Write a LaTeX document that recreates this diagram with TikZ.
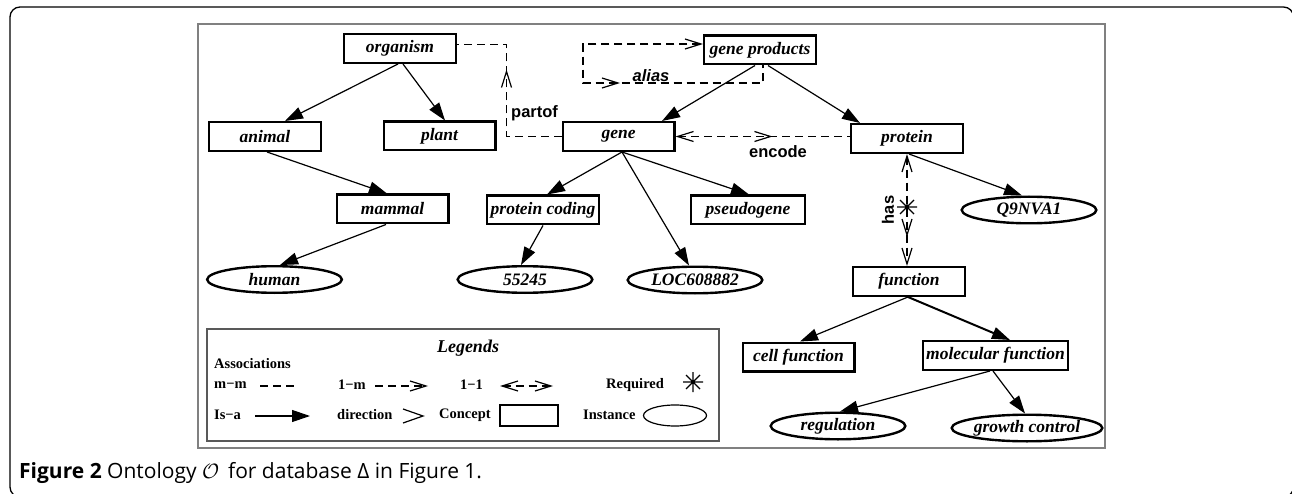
\documentclass[tikz,border=0pt]{standalone}
\usepackage{fontspec}
\setmainfont{Liberation Serif}
\newfontfamily\lblfont{Liberation Sans}
\newfontfamily\capfont{Open Sans}
\usetikzlibrary{shapes.geometric,arrows.meta,decorations.markings}
\begin{document}
\begin{tikzpicture}[x=1pt,y=-1pt,
  Chev/.tip={Straight Barb[length=16pt,width=10pt]},
  Tri/.tip={Triangle[length=18pt,width=12pt]},
  concept/.style={draw, line width=2.4pt, minimum width=111.6pt, minimum height=28.6pt, inner sep=0pt,
    font=\fontsize{17.5}{19}\selectfont\bfseries\itshape},
  inst/.style={draw, ellipse, line width=2.4pt, minimum width=134.6pt, minimum height=26.6pt, inner sep=0pt,
    font=\fontsize{17.5}{19}\selectfont\bfseries\itshape},
  isa/.style={line width=1.2pt, -Tri},
  assoc/.style={line width=1.2pt, dash pattern=on 8pt off 5pt},
  rellbl/.style={font=\lblfont\bfseries\fontsize{16.5}{19}\selectfont, inner sep=0pt},
  legtxt/.style={font=\fontsize{14.5}{16}\selectfont\bfseries, inner sep=0pt, anchor=west},
  reqstar/.pic={\draw[line width=1.2pt] (-10,0)--(10,0) (0,-10)--(0,10) (-7,-7)--(7,7) (-7,7)--(7,-7);}
]
\useasboundingbox (0,0) rectangle (1292,494);
% outer frame
\draw[line width=1.3pt, rounded corners=10pt] (10,7) rectangle (1293.5,497);
% inner figure frame
\draw[black!50, line width=1.2pt] (198,24) rectangle (1105,448);

% concepts
\node[concept] (organism) at (400,48.5) {organism};
\node[concept] (gp) at (760,50) {gene products};
\node[concept] (animal) at (265,136.5) {animal};
\node[concept] (plant) at (439.5,136) {plant};
\node[concept] (gene) at (618.5,136.5) {gene};
\node[concept] (protein) at (907,138.5) {protein};
\node[concept] (mammal) at (392.5,209) {mammal};
\node[concept] (pc) at (543,210) {protein coding};
\node[concept, minimum width=113.6pt] (pseudo) at (748,210) {pseudogene};
\node[concept] (function) at (909,281.5) {function};
\node[concept] (cell) at (798.5,357) {cell function};
\node[concept, minimum width=144.6pt] (molec) at (995.5,355.5) {molecular function};
% instances
\node[inst] (human) at (274.5,279.5) {human};
\node[inst] (n55245) at (525,279.5) {55245};
\node[inst] (loc) at (695,280) {LOC608882};
\node[inst] (q9) at (1029,210) {Q9NVA1};
\node[inst] (reg) at (838,426) {regulation};
\node[inst] (growth) at (1027,428) {growth control};

% is-a edges
\draw[isa] ([xshift=-2pt]organism.south) -- ([xshift=20pt]animal.north);
\draw[isa] ([xshift=3pt]organism.south) -- ([xshift=5.5pt]plant.north);
\draw[isa] ([xshift=2pt]animal.south) -- ([xshift=-5.5pt]mammal.north);
\draw[isa] ([xshift=-6.5pt]mammal.south) -- ([xshift=5.5pt]human.north);
\draw[isa] ([xshift=3.5pt]gene.south) -- ([xshift=4pt]pc.north);
\draw[isa] ([xshift=3.5pt]gene.south) -- ([xshift=-6pt]loc.north);
\draw[isa] ([xshift=3.5pt]gene.south) -- ([xshift=1pt]pseudo.north);
\draw[isa] (pc.south) -- ([xshift=-4pt]n55245.north);
\draw[isa] ([xshift=-5pt]gp.south) -- ([xshift=43.5pt]gene.north);
\draw[isa] ([xshift=8pt]gp.south) -- ([xshift=-47pt]protein.north);
\draw[isa] ([xshift=2pt]protein.south) -- ([xshift=-7pt]q9.north);
\draw[isa] ([xshift=-1pt]function.south) -- ([xshift=1.5pt]cell.north);
\draw[isa, line width=2pt] ([xshift=-1pt]function.south) -- ([xshift=14.5pt]molec.north);
\draw[isa] ([xshift=-5.5pt]molec.south) -- ([xshift=2pt]reg.north);
\draw[isa] ([xshift=-2.5pt]molec.south) -- ([xshift=-2pt]growth.north);

% associations
\draw[assoc, decoration={markings, mark=at position 122pt with {\arrow{Chev}}}, postaction={decorate}]
  (gene.west) -- ++(-55,0) |- ([yshift=4pt]organism.east);
\node[rellbl, anchor=west] (partoflbl) at (511,113) {partof};

\draw[assoc, {Chev}-, decoration={markings, mark=at position 196pt with {\arrow{Chev}}}, postaction={decorate}]
  ([yshift=6pt]gp.west) -| ++(-120,39) -| ([xshift=3pt]gp.south);
\node[rellbl, font=\lblfont\bfseries\itshape\fontsize{16.5}{19}\selectfont] (aliaslbl) at (651,76) {alias};

\draw[assoc, {Chev}-, decoration={markings, mark=at position 97pt with {\arrow{Chev}}}, postaction={decorate}]
  (gene.east) -- (gene.east -| protein.west);
\node[rellbl] (encodelbl) at (778,152) {encode};

\draw[assoc, {Chev}-{Chev}, decoration={markings, mark=at position 83pt with {\arrow{Chev}}}, postaction={decorate}]
  (protein.south) -- (protein.south |- function.north);
\pic at ([yshift=-53pt]protein.south) {reqstar};
\node[rellbl, rotate=90] (haslbl) at (888,210) {has};

% legend
\draw[black!65, line width=1.2pt] (207,329) rectangle (719,441);
\node[inner sep=0pt, font=\fontsize{18}{20}\selectfont\bfseries\itshape] (legtitle) at (468,348) {Legends};
\node[legtxt] (assoc) at (214,364) {Associations};
\node[legtxt] (mm) at (214,385) {m−m};
\node[legtxt] (onem) at (338,385) {1−m};
\node[legtxt] (oneone) at (460,385) {1−1};
\node[legtxt] (req) at (606,385) {Required};
\node[legtxt] (isalbl) at (214,415) {Is−a};
\node[legtxt] (dirlbl) at (337,415) {direction};
\node[legtxt] (conlbl) at (439,415) {Concept};
\node[legtxt] (inslbl) at (583,415) {Instance};
\draw[assoc] (260,386) -- (296,386);
\draw[assoc, -Chev] (375,386) -- (428,386);
\draw[assoc, {Chev}-{Chev}] (500,386) -- (553,386);
\pic at (693,382) {reqstar};
\draw[line width=1.2pt, -Tri] (255,416) -- (310,416);
\draw[line width=1.2pt] (403,409) -- (423,416) -- (403,423);
\draw[line width=1.2pt] (500,405) rectangle (558,426);
\draw[line width=1.2pt] (675,415.5) ellipse [x radius=31.5, y radius=10.5];

% caption
\node[anchor=base west, inner sep=0pt, font=\capfont\fontsize{21}{23}\selectfont] (caption) at (19,478)
  {\textbf{Figure 2} Ontology $\mathcal{O}$\, for database Δ in Figure 1.};
\end{tikzpicture}
\end{document}
